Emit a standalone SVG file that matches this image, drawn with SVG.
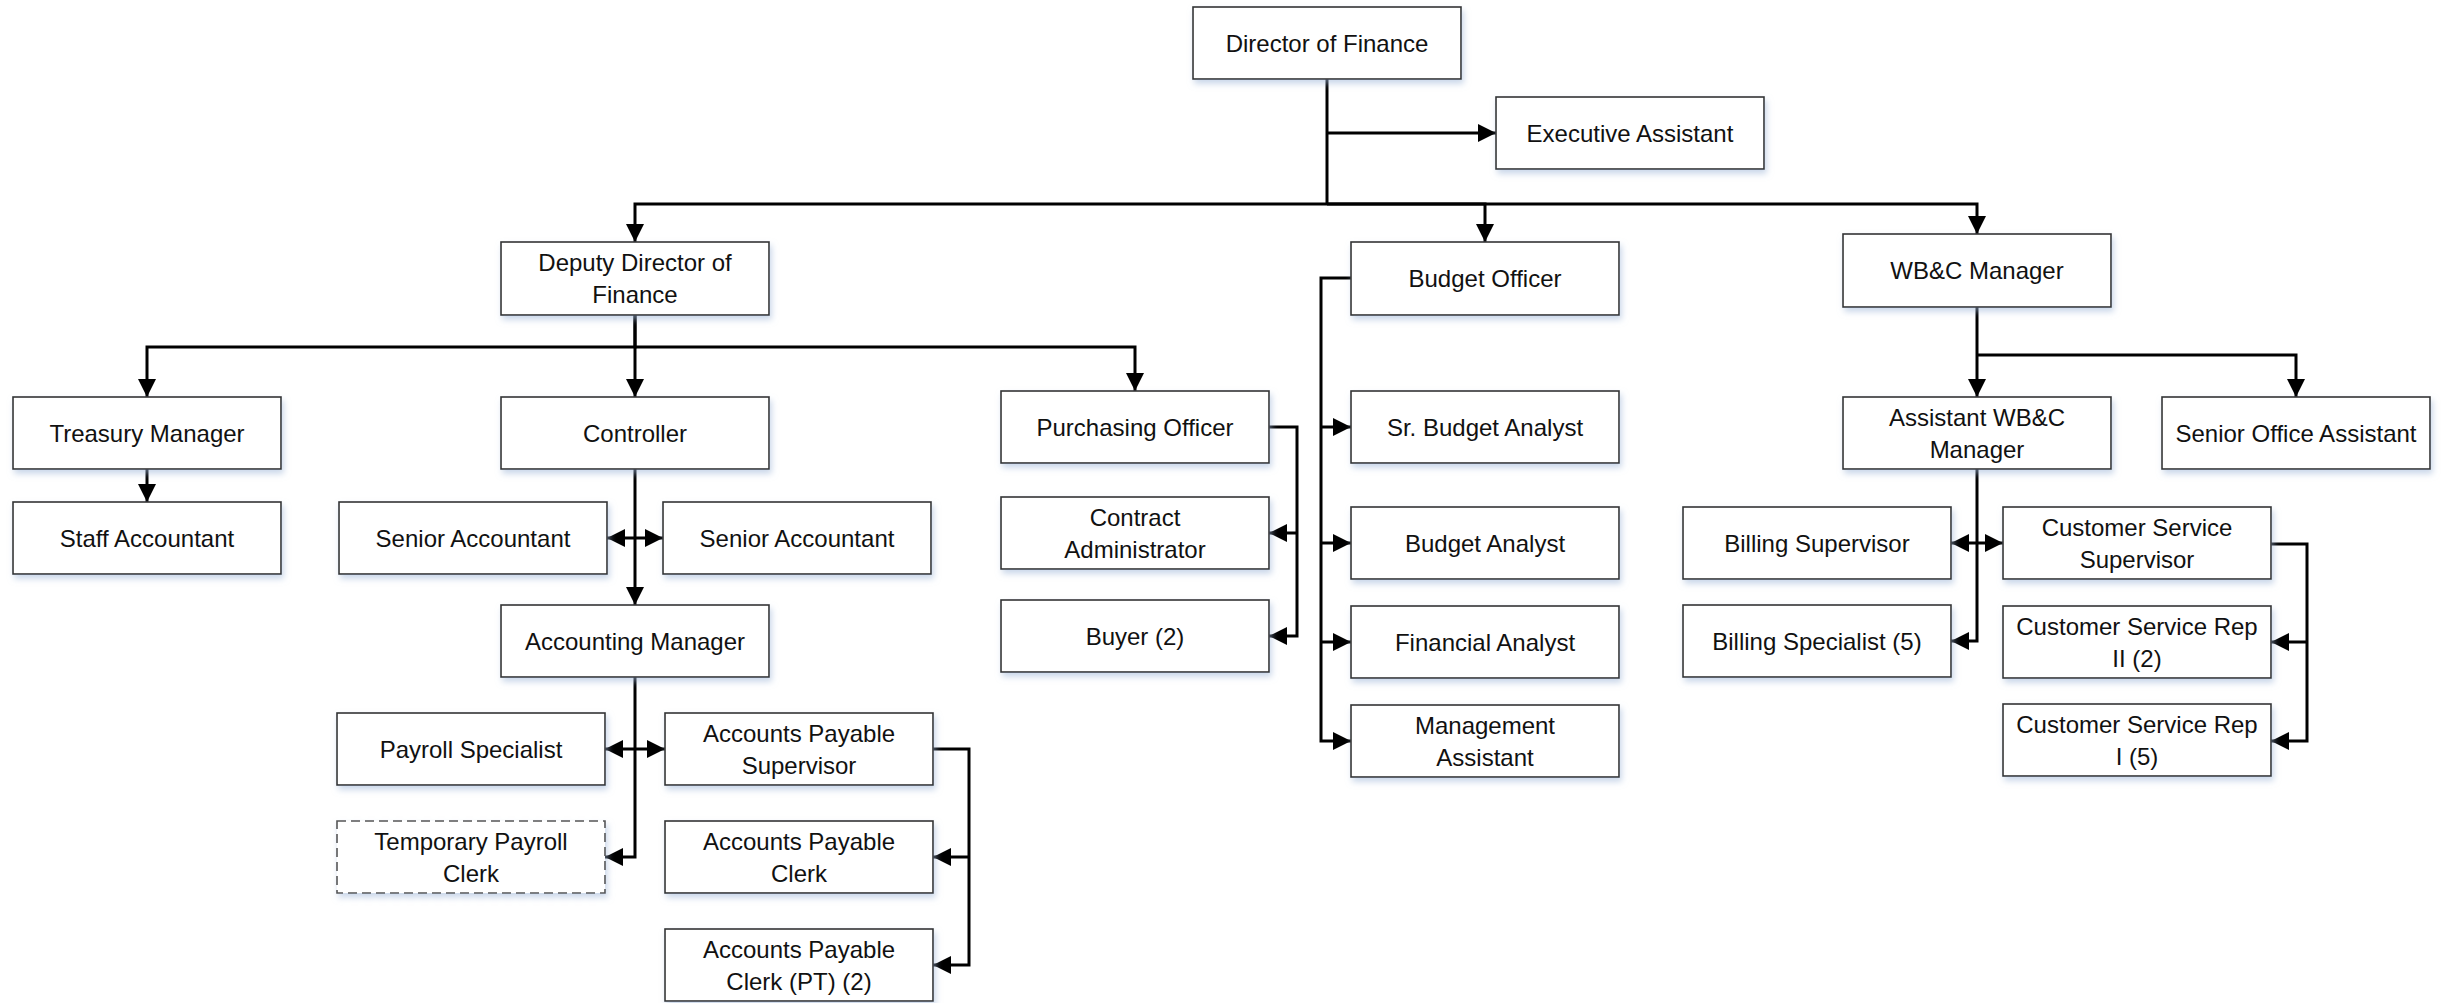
<svg xmlns="http://www.w3.org/2000/svg" width="2446" height="1003" viewBox="0 0 2446 1003">
  <defs>
    <filter id="shadow" x="-5%" y="-10%" width="115%" height="140%">
      <feDropShadow dx="2" dy="4" stdDeviation="3" flood-color="#9fb6d8" flood-opacity="0.55"/>
    </filter>
    <marker id="arrow" viewBox="0 0 18 18" markerWidth="18" markerHeight="18" refX="18" refY="9" orient="auto-start-reverse" markerUnits="userSpaceOnUse">
      <path d="M0,0 L18,9 L0,18 Z" fill="#000"/>
    </marker>
    <style>
      .box { fill: #ffffff; stroke: #333333; stroke-width: 1.6; filter: url(#shadow); }
      .dashed { stroke: #555555; stroke-dasharray: 9 5; }
      .lbl { font-family: "Liberation Sans", Arial, sans-serif; font-size: 24px; fill: #111111; text-anchor: middle; }
      .wire { fill: none; stroke: #000000; stroke-width: 3; stroke-linejoin: miter; }
      .to { marker-end: url(#arrow); }
      .both { marker-start: url(#arrow); marker-end: url(#arrow); }
    </style>
  </defs>

  <rect width="2446" height="1003" fill="#ffffff"/>

  <!-- connectors -->
  <g id="connectors" class="wire">
    <!-- Director of Finance -->
    <path d="M1327,79 V204"/>
    <path class="to" d="M1327,133 H1496"/>
    <path class="to" d="M1327,204 H635 V242"/>
    <path class="to" d="M1327,204 H1485 V242"/>
    <path class="to" d="M1327,204 H1977 V234"/>
    <!-- Deputy Director -->
    <path class="to" d="M635,315 V347 H147 V397"/>
    <path class="to" d="M635,315 V397"/>
    <path class="to" d="M635,347 H1135 V391"/>
    <!-- Treasury Manager -->
    <path class="to" d="M147,469 V502"/>
    <!-- Controller -->
    <path class="to" d="M635,469 V605"/>
    <path class="both" d="M607,538 H663"/>
    <!-- Accounting Manager -->
    <path class="to" d="M635,677 V857 H605"/>
    <path class="both" d="M605,749 H665"/>
    <!-- Accounts Payable Supervisor -->
    <path class="to" d="M933,749 H969 V965 H933"/>
    <path class="to" d="M969,857 H933"/>
    <!-- Purchasing Officer -->
    <path class="to" d="M1269,427 H1297 V636 H1269"/>
    <path class="to" d="M1297,533 H1269"/>
    <!-- Budget Officer -->
    <path class="to" d="M1351,278 H1321 V741 H1351"/>
    <path class="to" d="M1321,427 H1351"/>
    <path class="to" d="M1321,543 H1351"/>
    <path class="to" d="M1321,642 H1351"/>
    <!-- WB&C Manager -->
    <path class="to" d="M1977,307 V397"/>
    <path class="to" d="M1977,355 H2296 V397"/>
    <!-- Assistant WB&C Manager -->
    <path class="to" d="M1977,469 V641 H1951"/>
    <path class="both" d="M1951,543 H2003"/>
    <!-- Customer Service Supervisor -->
    <path class="to" d="M2271,544 H2307 V741 H2271"/>
    <path class="to" d="M2307,642 H2271"/>
  </g>

  <!-- nodes -->
  <g id="director-of-finance"><rect class="box" x="1193" y="7" width="268" height="72"/><text class="lbl" x="1327" y="52">Director of Finance</text></g>
  <g id="executive-assistant"><rect class="box" x="1496" y="97" width="268" height="72"/><text class="lbl" x="1630" y="142">Executive Assistant</text></g>

  <g id="deputy-director"><rect class="box" x="501" y="242" width="268" height="73"/><text class="lbl" x="635" y="271">Deputy Director of</text><text class="lbl" x="635" y="303">Finance</text></g>
  <g id="budget-officer"><rect class="box" x="1351" y="242" width="268" height="73"/><text class="lbl" x="1485" y="287">Budget Officer</text></g>
  <g id="wbc-manager"><rect class="box" x="1843" y="234" width="268" height="73"/><text class="lbl" x="1977" y="279">WB&amp;C Manager</text></g>

  <g id="treasury-manager"><rect class="box" x="13" y="397" width="268" height="72"/><text class="lbl" x="147" y="442">Treasury Manager</text></g>
  <g id="staff-accountant"><rect class="box" x="13" y="502" width="268" height="72"/><text class="lbl" x="147" y="547">Staff Accountant</text></g>

  <g id="controller"><rect class="box" x="501" y="397" width="268" height="72"/><text class="lbl" x="635" y="442">Controller</text></g>
  <g id="senior-accountant-1"><rect class="box" x="339" y="502" width="268" height="72"/><text class="lbl" x="473" y="547">Senior Accountant</text></g>
  <g id="senior-accountant-2"><rect class="box" x="663" y="502" width="268" height="72"/><text class="lbl" x="797" y="547">Senior Accountant</text></g>
  <g id="accounting-manager"><rect class="box" x="501" y="605" width="268" height="72"/><text class="lbl" x="635" y="650">Accounting Manager</text></g>
  <g id="payroll-specialist"><rect class="box" x="337" y="713" width="268" height="72"/><text class="lbl" x="471" y="758">Payroll Specialist</text></g>
  <g id="temporary-payroll-clerk"><rect class="box dashed" x="337" y="821" width="268" height="72"/><text class="lbl" x="471" y="850">Temporary Payroll</text><text class="lbl" x="471" y="882">Clerk</text></g>
  <g id="ap-supervisor"><rect class="box" x="665" y="713" width="268" height="72"/><text class="lbl" x="799" y="742">Accounts Payable</text><text class="lbl" x="799" y="774">Supervisor</text></g>
  <g id="ap-clerk"><rect class="box" x="665" y="821" width="268" height="72"/><text class="lbl" x="799" y="850">Accounts Payable</text><text class="lbl" x="799" y="882">Clerk</text></g>
  <g id="ap-clerk-pt"><rect class="box" x="665" y="929" width="268" height="72"/><text class="lbl" x="799" y="958">Accounts Payable</text><text class="lbl" x="799" y="990">Clerk (PT) (2)</text></g>

  <g id="purchasing-officer"><rect class="box" x="1001" y="391" width="268" height="72"/><text class="lbl" x="1135" y="436">Purchasing Officer</text></g>
  <g id="contract-administrator"><rect class="box" x="1001" y="497" width="268" height="72"/><text class="lbl" x="1135" y="526">Contract</text><text class="lbl" x="1135" y="558">Administrator</text></g>
  <g id="buyer"><rect class="box" x="1001" y="600" width="268" height="72"/><text class="lbl" x="1135" y="645">Buyer (2)</text></g>

  <g id="sr-budget-analyst"><rect class="box" x="1351" y="391" width="268" height="72"/><text class="lbl" x="1485" y="436">Sr. Budget Analyst</text></g>
  <g id="budget-analyst"><rect class="box" x="1351" y="507" width="268" height="72"/><text class="lbl" x="1485" y="552">Budget Analyst</text></g>
  <g id="financial-analyst"><rect class="box" x="1351" y="606" width="268" height="72"/><text class="lbl" x="1485" y="651">Financial Analyst</text></g>
  <g id="management-assistant"><rect class="box" x="1351" y="705" width="268" height="72"/><text class="lbl" x="1485" y="734">Management</text><text class="lbl" x="1485" y="766">Assistant</text></g>

  <g id="assistant-wbc-manager"><rect class="box" x="1843" y="397" width="268" height="72"/><text class="lbl" x="1977" y="426">Assistant WB&amp;C</text><text class="lbl" x="1977" y="458">Manager</text></g>
  <g id="senior-office-assistant"><rect class="box" x="2162" y="397" width="268" height="72"/><text class="lbl" x="2296" y="442">Senior Office Assistant</text></g>
  <g id="billing-supervisor"><rect class="box" x="1683" y="507" width="268" height="72"/><text class="lbl" x="1817" y="552">Billing Supervisor</text></g>
  <g id="billing-specialist"><rect class="box" x="1683" y="605" width="268" height="72"/><text class="lbl" x="1817" y="650">Billing Specialist (5)</text></g>
  <g id="customer-service-supervisor"><rect class="box" x="2003" y="507" width="268" height="72"/><text class="lbl" x="2137" y="536">Customer Service</text><text class="lbl" x="2137" y="568">Supervisor</text></g>
  <g id="customer-service-rep-2"><rect class="box" x="2003" y="606" width="268" height="72"/><text class="lbl" x="2137" y="635">Customer Service Rep</text><text class="lbl" x="2137" y="667">II (2)</text></g>
  <g id="customer-service-rep-1"><rect class="box" x="2003" y="704" width="268" height="72"/><text class="lbl" x="2137" y="733">Customer Service Rep</text><text class="lbl" x="2137" y="765">I (5)</text></g>
</svg>
